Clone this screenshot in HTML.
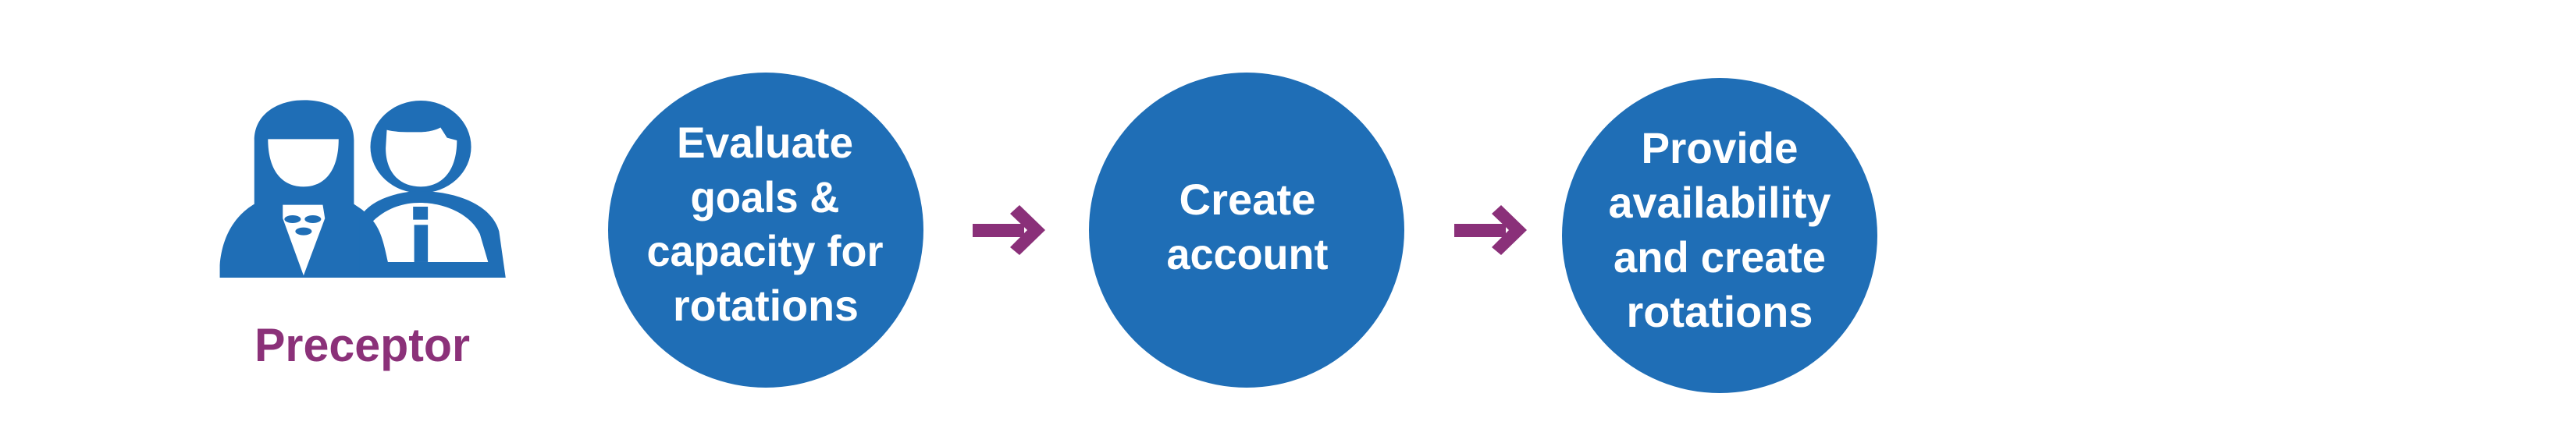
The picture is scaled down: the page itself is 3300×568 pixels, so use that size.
<!DOCTYPE html>
<html><head><meta charset="utf-8"><style>
html,body{margin:0;padding:0;background:#fff;width:3300px;height:568px;overflow:hidden}
svg{display:block}
text{font-family:"Liberation Sans",sans-serif;font-weight:bold}
</style></head><body>
<svg width="3300" height="568" viewBox="0 0 3300 568" xmlns="http://www.w3.org/2000/svg">
<rect width="3300" height="568" fill="#fff"/>
<!-- icon -->
<g transform="translate(250,80) scale(0.7015,0.3333)">
  <path fill="#1f6eb6" d="M45,828 L45,780 C50,650 80,580 108,545 L108,300 C108,200 150,145 200,145 C250,145 290,200 290,300 L290,545 C300,560 310,570 320,600 L330,828 Z"/>
  <path fill="#fff" d="M133,295 L262,295 C262,420 235,478 198,478 C160,478 133,420 133,295 Z"/>
  <path fill="#fff" d="M160,548 L233,548 L237,600 L198,820 L160,600 Z"/>
  <circle cx="178" cy="603" r="15" fill="#1f6eb6"/>
  <circle cx="215" cy="603" r="15" fill="#1f6eb6"/>
  <circle cx="198" cy="650" r="15" fill="#1f6eb6"/>
  <ellipse cx="412" cy="325" rx="92" ry="178" fill="#1f6eb6"/>
  <path fill="#fff" d="M350,260 C370,270 390,268 410,268 C430,268 445,255 448,250 L460,290 L478,300 C478,420 450,478 412,478 C372,478 348,420 348,330 Z"/>
  <path fill="#1f6eb6" d="M300,828 L300,600 C320,520 380,495 410,495 C470,495 540,540 555,650 L567,828 Z"/>
  <path fill="#fff" d="M325,610 C350,560 380,540 410,540 C460,540 505,590 520,660 L535,768 L352,768 C345,700 340,650 325,610 Z"/>
  <rect x="398" y="555" width="27" height="50" fill="#1f6eb6"/>
  <rect x="400" y="625" width="25" height="143" fill="#1f6eb6"/>
</g>
<text x="464" y="463" text-anchor="middle" font-size="60" fill="#8b3179" textLength="276" lengthAdjust="spacingAndGlyphs">Preceptor</text>
<!-- circles -->
<circle cx="981" cy="295" r="202" fill="#1f6eb6"/>
<circle cx="1597" cy="295" r="202" fill="#1f6eb6"/>
<circle cx="2203" cy="302" r="202" fill="#1f6eb6"/>
<g fill="#fff" font-size="56" text-anchor="middle">
<text x="980" y="202" textLength="226" lengthAdjust="spacingAndGlyphs">Evaluate</text>
<text x="980" y="272" textLength="191" lengthAdjust="spacingAndGlyphs">goals &amp;</text>
<text x="980" y="341" textLength="303" lengthAdjust="spacingAndGlyphs">capacity for</text>
<text x="981" y="411" textLength="238" lengthAdjust="spacingAndGlyphs">rotations</text>
<text x="1598" y="275" textLength="175" lengthAdjust="spacingAndGlyphs">Create</text>
<text x="1598" y="345" textLength="207" lengthAdjust="spacingAndGlyphs">account</text>
<text x="2203" y="209" textLength="201" lengthAdjust="spacingAndGlyphs">Provide</text>
<text x="2203" y="279" textLength="285" lengthAdjust="spacingAndGlyphs">availability</text>
<text x="2203" y="349" textLength="272" lengthAdjust="spacingAndGlyphs">and create</text>
<text x="2203" y="419" textLength="239" lengthAdjust="spacingAndGlyphs">rotations</text>
</g>
<!-- arrows -->
<g fill="#8a3079">
<rect x="1246" y="287" width="66" height="17"/>
<polygon points="1294,274 1306,263 1339,295 1306,327 1294,317 1316,295"/>
<g transform="translate(617,0)">
<rect x="1246" y="287" width="66" height="17"/>
<polygon points="1294,274 1306,263 1339,295 1306,327 1294,317 1316,295"/>
</g>
</g>
</svg>
</body></html>
